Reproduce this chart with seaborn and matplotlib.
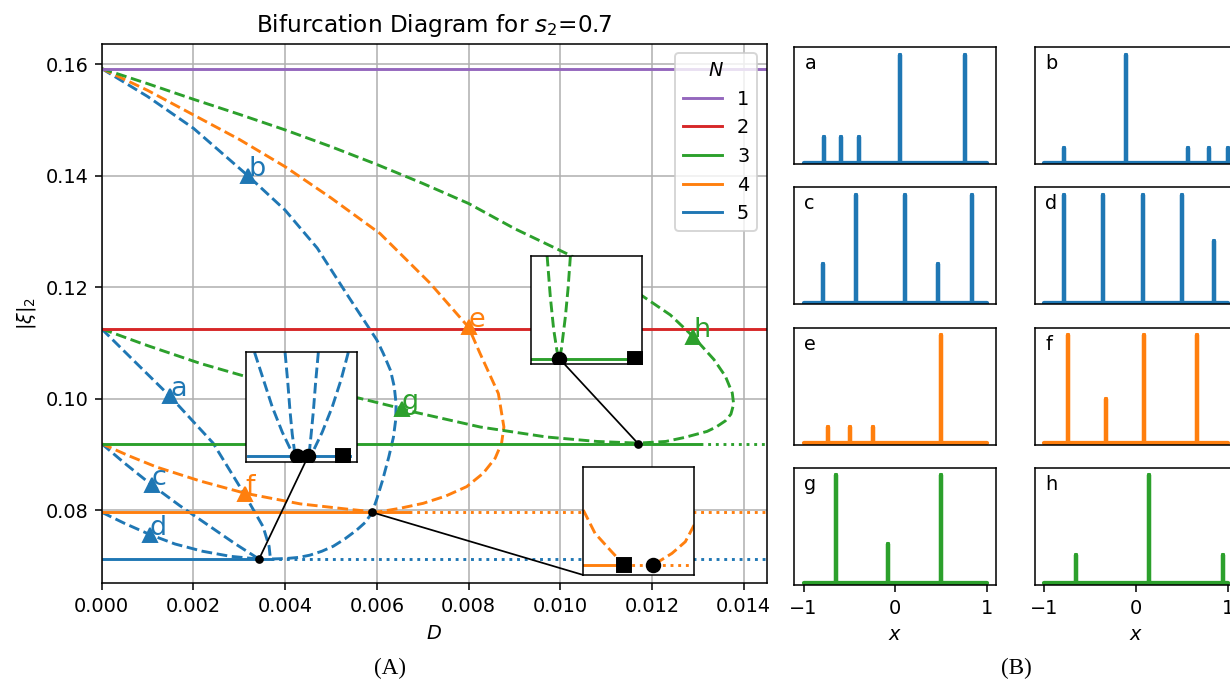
import matplotlib
matplotlib.use("Agg")
import matplotlib.pyplot as plt
import seaborn as sns
from matplotlib.patches import ConnectionPatch
from matplotlib.lines import Line2D

# ------------------------------------------------------------------ data
N_values = [1, 2, 3, 4, 5]
N_colors = ["tab:purple", "tab:red", "tab:green", "tab:orange", "tab:blue"]
uniform_xi = [0.15915, 0.11254, 0.09189, 0.07958, 0.07118]
stable_until = [0.0150, 0.0150, 0.01305, 0.0067, 0.0037]
D_end = 0.0150

# N=5 branches (blue)
a_D = [0.0, 0.0007, 0.00149, 0.00243, 0.00313, 0.00352, 0.00365, 0.00368]
a_xi = [0.1125, 0.1068, 0.1004, 0.0920, 0.0826, 0.0770, 0.0735, 0.0712]
b_D = [0.0, 0.001, 0.002, 0.0032, 0.004, 0.0047, 0.00534, 0.0060, 0.00614, 0.0063, 0.00638,
       0.00642, 0.00641, 0.00636, 0.00626, 0.00612, 0.0060, 0.0059, 0.00575, 0.00556, 0.0053,
       0.00505, 0.0048, 0.00454, 0.0043, 0.00403, 0.00365]
b_xi = [0.1592, 0.1542, 0.1485, 0.1399, 0.1338, 0.1270, 0.1188, 0.1105, 0.1081, 0.1050, 0.1021,
        0.0990, 0.0961, 0.0930, 0.0895, 0.0852, 0.0820, 0.0796, 0.0778, 0.0764, 0.0748,
        0.0735, 0.0726, 0.0719, 0.0715, 0.0713, 0.0712]
c_D = [0.0, 0.0005, 0.00109, 0.0017, 0.0023, 0.0029, 0.00343]
c_xi = [0.0919, 0.0884, 0.0845, 0.0808, 0.0774, 0.0740, 0.0712]
d_D = [0.0, 0.0005, 0.00105, 0.0016, 0.0022, 0.0028, 0.00343]
d_xi = [0.0796, 0.0776, 0.0756, 0.0739, 0.0726, 0.0717, 0.0712]

# N=4 branches (orange)
e_D = [0.0, 0.001, 0.002, 0.003, 0.004, 0.005, 0.00607, 0.00716, 0.0080, 0.00825, 0.00865,
       0.00877, 0.00872, 0.00858, 0.00832, 0.00796, 0.0075, 0.00701, 0.0065, 0.00607, 0.0059]
e_xi = [0.1592, 0.1553, 0.1509, 0.1465, 0.1416, 0.1360, 0.1296, 0.1207, 0.1128, 0.1081, 0.1009,
        0.0949, 0.0920, 0.0893, 0.0866, 0.0842, 0.0825, 0.0812, 0.0803, 0.0797, 0.0796]
f_D = [0.0, 0.0006, 0.0012, 0.00215, 0.00313, 0.00433, 0.00542, 0.0059]
f_xi = [0.0919, 0.0897, 0.0877, 0.0852, 0.0830, 0.0811, 0.0801, 0.0797]

# N=3 branches (green)
g_D = [0.0, 0.001, 0.00215, 0.0035, 0.0045, 0.0056, 0.00654, 0.0068, 0.00825, 0.0097, 0.0108, 0.0117]
g_xi = [0.1125, 0.1095, 0.1063, 0.1031, 0.1014, 0.1001, 0.0982, 0.0976, 0.0949, 0.0931, 0.0923, 0.0920]
h_D = [0.0, 0.001, 0.002, 0.003, 0.004, 0.005, 0.006, 0.007, 0.008, 0.009, 0.01014, 0.0110,
       0.01181, 0.0124, 0.0129, 0.01335, 0.0136, 0.01375, 0.01378, 0.01372, 0.0136, 0.0134,
       0.0132, 0.0127, 0.0123, 0.0117]
h_xi = [0.1592, 0.1565, 0.1537, 0.1510, 0.1482, 0.1452, 0.1420, 0.1386, 0.1350, 0.1305, 0.1260, 0.1224,
        0.1183, 0.1150, 0.1111, 0.1070, 0.1040, 0.1010, 0.0990, 0.0972, 0.0960, 0.0949,
        0.0941, 0.0930, 0.0923, 0.0920]

# labelled solutions
label_names = ["a", "b", "c", "d", "e", "f", "g", "h"]
label_D = [0.00149, 0.0032, 0.00109, 0.00105, 0.0080, 0.00313, 0.00654, 0.0129]
label_xi = [0.1004, 0.1399, 0.0845, 0.0756, 0.1128, 0.0829, 0.0982, 0.1111]
label_colors = ["tab:blue"] * 4 + ["tab:orange"] * 2 + ["tab:green"] * 2

# bifurcation points
bif_D = [0.00343, 0.0059, 0.0117]
bif_xi = [0.07118, 0.07958, 0.09189]

# inset 1 (N=5) – zoomed, normalised units
in1_base_x = [0.02, 0.94]
in1_base_y = [0.052, 0.052]
in1_ol_x = [0.08, 0.16, 0.24, 0.33, 0.41, 0.459]
in1_ol_y = [1.0, 0.75, 0.50, 0.27, 0.10, 0.052]
in1_il_x = [0.355, 0.38, 0.40, 0.42, 0.44, 0.459]
in1_il_y = [1.0, 0.72, 0.46, 0.25, 0.10, 0.052]
in1_ir_x = [0.655, 0.63, 0.61, 0.59, 0.575, 0.564]
in1_ir_y = [1.0, 0.72, 0.46, 0.25, 0.10, 0.052]
in1_or_x = [0.925, 0.86, 0.78, 0.69, 0.61, 0.564]
in1_or_y = [1.0, 0.75, 0.50, 0.27, 0.10, 0.052]
in1_circ_x = [0.459, 0.564]
in1_sq_x = [0.879]

# inset 2 (N=3)
in2_base_x = [0.0, 0.937]
in2_base_y = [0.049, 0.049]
in2_l_x = [0.141, 0.17, 0.20, 0.23, 0.252]
in2_l_y = [1.0, 0.62, 0.32, 0.12, 0.049]
in2_r_x = [0.351, 0.33, 0.306, 0.27, 0.252]
in2_r_y = [1.0, 0.70, 0.44, 0.14, 0.049]
in2_circ_x = [0.252]
in2_sq_x = [0.937]

# inset 3 (N=4)
in3_solid_x = [0.0, 0.37]
in3_dot_x = [0.37, 0.96]
in3_base_y = 0.09
in3_l_x = [0.0, 0.106, 0.256, 0.37]
in3_l_y = [0.60, 0.385, 0.215, 0.09]
in3_r_x = [1.0, 0.92, 0.80, 0.627]
in3_r_y = [0.462, 0.307, 0.20, 0.09]
in3_circ_x = [0.627]
in3_sq_x = [0.37]

# solution profiles (peak positions and heights)
prof_names = ["a", "b", "c", "d", "e", "f", "g", "h"]
prof_colors = ["tab:blue"] * 4 + ["tab:orange"] * 2 + ["tab:green"] * 2
peaks_a = [-0.782, -0.592, -0.393, 0.047, 0.756]
heights_a = [0.24, 0.24, 0.24, 1.0, 1.0]
peaks_b = [-0.79, -0.11, 0.57, 0.79, 1.0]
heights_b = [0.136, 1.0, 0.136, 0.136, 0.136]
peaks_c = [-0.789, -0.425, 0.102, 0.469, 0.833]
heights_c = [0.355, 1.0, 1.0, 0.355, 1.0]
peaks_d = [-0.79, -0.366, 0.074, 0.505, 0.85]
heights_d = [1.0, 1.0, 1.0, 1.0, 0.575]
peaks_e = [-0.734, -0.49, -0.243, 0.502]
heights_e = [0.15, 0.15, 0.15, 1.0]
peaks_f = [-0.74, -0.33, 0.091, 0.667]
heights_f = [1.0, 0.41, 1.0, 1.0]
peaks_g = [-0.651, -0.084, 0.502]
heights_g = [1.0, 0.363, 1.0]
peaks_h = [-0.66, 0.136, 0.945]
heights_h = [0.264, 1.0, 0.264]

# ------------------------------------------------------------------ figure
DPI = 139
fig = plt.figure(figsize=(1231 / DPI, 680 / DPI), dpi=DPI)
ax = fig.add_axes([0.0826, 0.1422, 0.5402, 0.7938])


def line(axis, x, y, color, **kw):
    sns.lineplot(x=x, y=y, ax=axis, color=color, sort=False, estimator=None, **kw)


# uniform (horizontal) solutions
handles = []
for n, col, lev, su in zip(N_values, N_colors, uniform_xi, stable_until):
    line(ax, [0.0, su], [lev, lev], col, lw=1.5, zorder=2.2)
    if su < D_end:
        line(ax, [su, D_end], [lev, lev], col, lw=1.5, linestyle=":", zorder=2.2)
    handles.append(Line2D([], [], color=col, lw=1.5))

# non-uniform branches
branches = [
    (a_D, a_xi, "tab:blue"), (b_D, b_xi, "tab:blue"), (c_D, c_xi, "tab:blue"), (d_D, d_xi, "tab:blue"),
    (e_D, e_xi, "tab:orange"), (f_D, f_xi, "tab:orange"),
    (g_D, g_xi, "tab:green"), (h_D, h_xi, "tab:green"),
]
for bx, by, col in branches:
    line(ax, bx, by, col, lw=1.5, linestyle="--", zorder=2.1)

# labelled markers
for nm, xd, yd, col in zip(label_names, label_D, label_xi, label_colors):
    ax.plot(xd, yd, "^", color=col, ms=7, zorder=3)
    ax.text(xd, yd, nm, color=col, fontsize=14, zorder=3)

# bifurcation dots
ax.plot(bif_D, bif_xi, "o", color="k", ms=3.5, ls="none", zorder=3.5)

ax.set_xlim(0, 0.0145)
ax.set_ylim(0.06685, 0.1637)
ax.set_xticks([0.0, 0.002, 0.004, 0.006, 0.008, 0.010, 0.012, 0.014])
ax.set_xticklabels(["0.000", "0.002", "0.004", "0.006", "0.008", "0.010", "0.012", "0.014"])
ax.set_yticks([0.08, 0.10, 0.12, 0.14, 0.16])
ax.set_yticklabels(["0.08", "0.10", "0.12", "0.14", "0.16"])
ax.grid(True, color="#b0b0b0", lw=0.8)
ax.set_axisbelow(True)
ax.set_xlabel("$D$")
ax.set_ylabel(r"$|\xi|_2$")
ax.set_title("Bifurcation Diagram for $s_2$=0.7")
ax.legend(handles, [str(n) for n in N_values], title="$N$", loc="upper right")

# insets
def make_inset(rect):
    ins = ax.inset_axes(rect)
    ins.set_xlim(0, 1)
    ins.set_ylim(0, 1)
    ins.set_xticks([])
    ins.set_yticks([])
    ins.set_facecolor("white")
    return ins


ins1 = make_inset([0.2165, 0.2253, 0.1669, 0.2027])
line(ins1, in1_base_x, in1_base_y, "tab:blue", lw=1.5)
for xx, yy in [(in1_ol_x, in1_ol_y), (in1_il_x, in1_il_y), (in1_ir_x, in1_ir_y), (in1_or_x, in1_or_y)]:
    line(ins1, xx, yy, "tab:blue", lw=1.5, linestyle="--")
ins1.plot(in1_circ_x, [in1_base_y[0]] * len(in1_circ_x), "o", color="k", ms=7, ls="none", zorder=4)
ins1.plot(in1_sq_x, [in1_base_y[0]] * len(in1_sq_x), "s", color="k", ms=7, ls="none", zorder=4)

ins2 = make_inset([0.6463, 0.4063, 0.1669, 0.2006])
line(ins2, in2_base_x, in2_base_y, "tab:green", lw=1.5)
line(ins2, in2_l_x, in2_l_y, "tab:green", lw=1.5, linestyle="--")
line(ins2, in2_r_x, in2_r_y, "tab:green", lw=1.5, linestyle="--")
ins2.plot(in2_circ_x, [in2_base_y[0]], "o", color="k", ms=7, ls="none", zorder=4)
ins2.plot(in2_sq_x, [in2_base_y[0]], "s", color="k", ms=7, ls="none", zorder=4)

ins3 = make_inset([0.7242, 0.0154, 0.1668, 0.2006])
line(ins3, in3_solid_x, [in3_base_y] * 2, "tab:orange", lw=1.5)
line(ins3, in3_dot_x, [in3_base_y] * 2, "tab:orange", lw=1.5, linestyle=":")
line(ins3, in3_l_x, in3_l_y, "tab:orange", lw=1.5, linestyle="--")
line(ins3, in3_r_x, in3_r_y, "tab:orange", lw=1.5, linestyle="--")
ins3.plot(in3_circ_x, [in3_base_y], "o", color="k", ms=7, ls="none", zorder=4)
ins3.plot(in3_sq_x, [in3_base_y], "s", color="k", ms=7, ls="none", zorder=4)

# connectors
for xyA, cA, xyB in [((in1_circ_x[1], in1_base_y[0]), ins1.transData, (bif_D[0], bif_xi[0])),
                     ((0.0, 0.0), ins3.transAxes, (bif_D[1], bif_xi[1])),
                     ((in2_circ_x[0], in2_base_y[0]), ins2.transData, (bif_D[2], bif_xi[2]))]:
    con = ConnectionPatch(xyA=xyA, coordsA=cA, xyB=xyB, coordsB=ax.transData,
                          color="k", lw=0.9, zorder=3.2)
    ax.add_artist(con)

# ------------------------------------------------------------------ profiles
all_peaks = [peaks_a, peaks_b, peaks_c, peaks_d, peaks_e, peaks_f, peaks_g, peaks_h]
all_heights = [heights_a, heights_b, heights_c, heights_d, heights_e, heights_f, heights_g, heights_h]
col_left = [0.6453, 0.8410]
row_bottom = [0.7584, 0.5525, 0.3456, 0.1397]
pw, ph = 0.1639, 0.1725

for i, (nm, col, pk, ht) in enumerate(zip(prof_names, prof_colors, all_peaks, all_heights)):
    r, c = divmod(i, 2)
    pax = fig.add_axes([col_left[c], row_bottom[r], pw, ph])
    xs, ys = [-1.0], [0.0]
    for p, hgt in sorted(zip(pk, ht)):
        xs += [p, p, p]
        ys += [0.0, hgt, 0.0]
    xs.append(1.0)
    ys.append(0.0)
    line(pax, xs, ys, col, lw=2.2, solid_joinstyle="round", solid_capstyle="round")
    pax.set_xlim(-1.1, 1.1)
    pax.set_ylim(-0.015, 1.07)
    pax.set_yticks([])
    if r == 3:
        pax.set_xticks([-1, 0, 1])
        pax.set_xlabel("$x$")
    else:
        pax.set_xticks([])
    pax.text(0.05, 0.81, nm, transform=pax.transAxes, fontsize=10)

fig.text(0.3168, 0.0176, "(A)", family="Liberation Serif", fontsize=12, ha="center", va="center")
fig.text(0.826, 0.0176, "(B)", family="Liberation Serif", fontsize=12, ha="center", va="center")

fig.savefig("out.png", dpi=DPI)
